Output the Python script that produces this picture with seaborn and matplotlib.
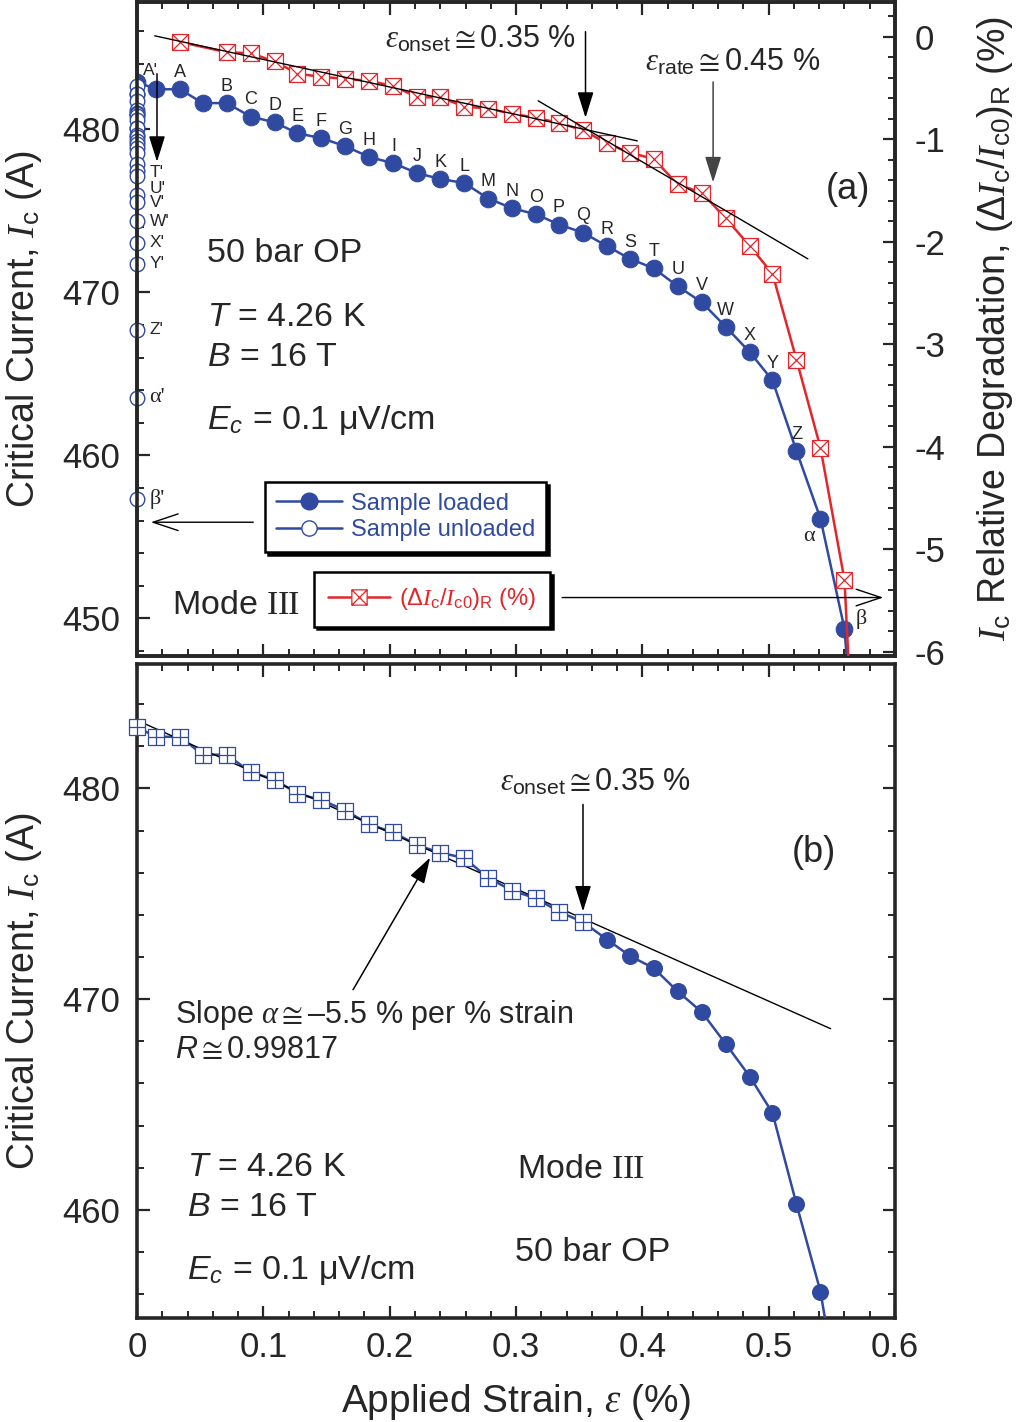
import numpy as np
import matplotlib
matplotlib.use("Agg")
import matplotlib.pyplot as plt
import seaborn as sns
from matplotlib.path import Path
from matplotlib.lines import Line2D
from matplotlib.ticker import MultipleLocator

# ---- data ----
# loaded measurements (strain %, Ic in A); last point lies below the plot range
strain = [0.000, 0.015, 0.034, 0.052, 0.071, 0.090, 0.109, 0.127, 0.146, 0.165,
          0.184, 0.203, 0.222, 0.240, 0.259, 0.278, 0.297, 0.316, 0.334, 0.353,
          0.372, 0.390, 0.409, 0.428, 0.447, 0.466, 0.485, 0.503, 0.522, 0.541,
          0.560, 0.579]
ic_loaded = [482.90, 482.45, 482.45, 481.60, 481.60, 480.77, 480.42, 479.75, 479.45, 478.95,
             478.29, 477.91, 477.30, 476.95, 476.70, 475.75, 475.15, 474.78, 474.15, 473.66,
             472.83, 472.06, 471.47, 470.37, 469.39, 467.88, 466.33, 464.60, 460.27, 456.12,
             449.36, 430.00]
point_labels = ["", "", "A", "", "B", "C", "D", "E", "F", "G", "H", "I", "J", "K", "L",
                "M", "N", "O", "P", "Q", "R", "S", "T", "U", "V", "W", "X", "Y", "Z",
                "α", "β", ""]

# unloaded measurements (all taken back at zero strain)
ic_unloaded = [482.66, 482.18, 482.13, 481.74, 481.16, 481.02, 480.92, 480.82, 480.58, 480.05,
               480.05, 479.62, 479.52, 479.28, 479.09, 478.84, 478.51, 477.88, 477.44, 477.15,
               475.95, 475.56, 474.35, 473.05, 471.75, 467.69, 463.54, 457.31]
strain_unloaded = [0.0] * len(ic_unloaded)
unloaded_labels = ["A'", "", "", "", "", "", "", "", "", "", "", "", "", "", "", "", "", "", "",
                   "T'", "U'", "V'", "W'", "X'", "Y'", "Z'", "α'", "β'"]

# relative degradation (%) of the unloaded Ic, right axis
strain_red = [0.034, 0.071, 0.090, 0.109, 0.127, 0.146, 0.165, 0.184, 0.203, 0.222,
              0.240, 0.259, 0.278, 0.297, 0.316, 0.334, 0.353, 0.372, 0.390, 0.409,
              0.428, 0.447, 0.466, 0.485, 0.503, 0.522, 0.541, 0.560, 0.579]
degradation = [-0.05, -0.15, -0.16, -0.24, -0.36, -0.39, -0.41, -0.43, -0.48, -0.59,
               -0.59, -0.68, -0.70, -0.75, -0.79, -0.84, -0.91, -1.04, -1.13, -1.19,
               -1.44, -1.52, -1.77, -2.04, -2.31, -3.15, -4.01, -5.30, -10.0]

# straight-line fits
fit_low_x, fit_low_y = [0.014, 0.396], [0.01, -1.015]
fit_high_x, fit_high_y = [0.3175, 0.531], [-0.624, -2.166]
fit_b_x, fit_b_y = [0.0, 0.549], [483.23, 468.60]
n_linear = 20  # points up to the onset strain shown as squares in (b)

# ---- style ----
sns.set_style("ticks")
plt.rcParams["font.family"] = ["Liberation Sans", "DejaVu Sans"]
plt.rcParams["font.size"] = 24
plt.rcParams["axes.unicode_minus"] = False
plt.rcParams["mathtext.fontset"] = "custom"
plt.rcParams["mathtext.rm"] = "Liberation Sans"
plt.rcParams["mathtext.it"] = "Liberation Serif:italic"
plt.rcParams["mathtext.sf"] = "Liberation Sans:italic"
plt.rcParams["mathtext.cal"] = "Liberation Serif"
plt.rcParams["mathtext.bf"] = "Liberation Sans:bold"
plt.rcParams["mathtext.fallback"] = "stixsans"

BLUE = "#2f4aa0"
RED = "#e3262b"

M, L, C = Path.MOVETO, Path.LINETO, Path.CLOSEPOLY
box_x = Path([(-1, -1), (1, -1), (1, 1), (-1, 1), (-1, -1),
              (-1, -1), (1, 1), (-1, 1), (1, -1)],
             [M, L, L, L, C, M, L, M, L])
box_plus = Path([(-1, -1), (1, -1), (1, 1), (-1, 1), (-1, -1),
                 (-1, 0), (1, 0), (0, -1), (0, 1)],
                [M, L, L, L, C, M, L, M, L])

fig = plt.figure(figsize=(10.25, 14.22), dpi=100)
ax = fig.add_axes([0.1337, 0.5387, 0.7395, 0.4599])
axb = fig.add_axes([0.1337, 0.0731, 0.7395, 0.4599])
ax2 = ax.twinx()

arrow_fill = dict(arrowstyle="-|>,head_length=0.8,head_width=0.25", color="k",
                  lw=1.1, mutation_scale=20, shrinkA=0, shrinkB=0)
arrow_open = dict(arrowstyle="->,head_length=0.9,head_width=0.3", color="k",
                  lw=1.0, mutation_scale=20, shrinkA=0, shrinkB=0)

# ---- panel (a) ----
sns.lineplot(x=strain, y=ic_loaded, ax=ax, color=BLUE, lw=1.8, marker="o",
             markersize=12, markeredgecolor=BLUE, markerfacecolor=BLUE,
             sort=False, estimator=None, zorder=3)
sns.scatterplot(x=strain_unloaded, y=ic_unloaded, ax=ax, marker="o", s=110,
                facecolor="white", edgecolor=BLUE, linewidth=1.0, clip_on=False, zorder=6)
sns.scatterplot(x=strain_unloaded, y=ic_unloaded, ax=ax, marker="o", s=2,
                color=BLUE, linewidth=0, clip_on=False, zorder=7)

for x, y, lab in zip(strain, ic_loaded, point_labels):
    if not lab:
        continue
    if lab == "α":
        off, fam, fs = (-8, -13), "Liberation Serif", 16
    elif lab == "β":
        off, fam, fs = (12, 7), "Liberation Serif", 16
    else:
        off, fam, fs = (0, 12), "Liberation Sans", 13
    ax.annotate(lab, (x, y), xytext=off, textcoords="offset points",
                ha="center", va="center", fontsize=fs, family=fam)

unloaded_offsets = {"A'": (4, 11), "T'": (9, 2), "U'": (9, 5), "V'": (9, -1)}
for x, y, lab in zip(strain_unloaded, ic_unloaded, unloaded_labels):
    if not lab:
        continue
    off = unloaded_offsets.get(lab, (9, 0))
    fam = "Liberation Serif" if lab[0] in "αβ" else "Liberation Sans"
    fs = 16 if lab[0] in "αβ" else 12.5
    ax.annotate(lab, (x, y), xytext=off, textcoords="offset points",
                ha="left", va="center", fontsize=fs, family=fam, zorder=8)

sns.lineplot(x=strain_red, y=degradation, ax=ax2, color=RED, lw=1.8, marker=box_x,
             markersize=11.5, markeredgecolor=RED, markerfacecolor="white",
             markeredgewidth=0.9, sort=False, estimator=None, zorder=3)
sns.lineplot(x=fit_low_x, y=fit_low_y, ax=ax2, color="k", lw=1.0, zorder=4)
sns.lineplot(x=fit_high_x, y=fit_high_y, ax=ax2, color="k", lw=1.0, zorder=4)

ax.set_xlim(0, 0.6)
ax.set_ylim(447.7, 487.8)
ax2.set_ylim(-6.04, 0.34)

ax2.text(0.196, -0.10, r"$ε_{\mathrm{onset}} \cong$0.35 %", fontsize=22, va="baseline")
ax2.annotate("", xy=(0.355, -0.79), xytext=(0.355, 0.05), arrowprops=arrow_fill)
ax2.text(0.402, -0.33, r"$ε_{\mathrm{rate}} \cong$0.45 %", fontsize=22, va="baseline")
ax2.annotate("", xy=(0.456, -1.42), xytext=(0.456, -0.44),
             arrowprops={**arrow_fill, "color": "#444444"})
ax2.annotate("", xy=(0.5907, -5.47), xytext=(0.3365, -5.47), arrowprops=arrow_open)
ax.annotate("", xy=(0.0158, 478.0), xytext=(0.0158, 483.4), arrowprops=arrow_fill, zorder=9)
ax.annotate("", xy=(0.011, 455.9), xytext=(0.092, 455.9), arrowprops=arrow_open)

ax.text(0.563, 476.3, "(a)", fontsize=26, ha="center", va="center")
ax.text(0.0554, 472.4, "50 bar OP", fontsize=24.5, va="center")
ax.text(0.0554, 468.44, r"$\mathsf{T}$ = 4.26 K", fontsize=24.5, va="center")
ax.text(0.0554, 466.0, r"$\mathsf{B}$ = 16 T", fontsize=24.5, va="center")
ax.text(0.0554, 461.6, r"$\mathsf{E}_{\mathsf{c}}$ = 0.1 μV/cm", fontsize=24.5, va="baseline")
ax.text(0.0277, 450.8, r"Mode $\mathcal{III}$", fontsize=24.5, va="center")

handles1 = [Line2D([], [], color=BLUE, lw=1.8, marker="o", ms=12, mfc=BLUE, mec=BLUE),
            Line2D([], [], color=BLUE, lw=1.8, marker="o", ms=11, mfc="white", mec=BLUE, mew=1)]
leg1 = ax2.legend(handles1, ["Sample loaded", "Sample unloaded"], loc="upper left",
                  bbox_to_anchor=(0.169, 0.266), borderaxespad=0, fontsize=17,
                  frameon=True, fancybox=False, edgecolor="k", framealpha=1,
                  shadow={"color": "k", "alpha": 1}, handlelength=2.8,
                  handletextpad=0.4, labelspacing=0.2, borderpad=0.45)
leg1.get_frame().set_linewidth(1.8)
for t in leg1.get_texts():
    t.set_color(BLUE)
ax2.add_artist(leg1)

handles2 = [Line2D([], [], color=RED, lw=1.8, marker=box_x, ms=11, mfc="white",
                   mec=RED, mew=0.9)]
leg2 = ax2.legend(handles2, [r"$(\Delta I_{\mathrm{c}}/I_{\mathrm{c0}})_{\mathrm{R}}$ (%)"],
                  loc="upper left", bbox_to_anchor=(0.2335, 0.128), borderaxespad=0,
                  fontsize=17, frameon=True, fancybox=False, edgecolor="k",
                  framealpha=1, shadow={"color": "k", "alpha": 1}, handlelength=2.6,
                  handletextpad=0.4, borderpad=0.6)
leg2.get_frame().set_linewidth(1.8)
for t in leg2.get_texts():
    t.set_color(RED)

# ---- panel (b) ----
sns.lineplot(x=strain, y=ic_loaded, ax=axb, color=BLUE, lw=1.8, sort=False,
             estimator=None, zorder=3)
sns.lineplot(x=fit_b_x, y=fit_b_y, ax=axb, color="k", lw=1.0, zorder=4)
sns.scatterplot(x=strain[:n_linear], y=ic_loaded[:n_linear], ax=axb, marker=box_plus,
                s=120, facecolor="white", edgecolor=BLUE, linewidth=0.9,
                clip_on=False, zorder=5)
sns.scatterplot(x=strain[n_linear:], y=ic_loaded[n_linear:], ax=axb, marker="o",
                s=150, color=BLUE, edgecolor=BLUE, linewidth=0, zorder=5)

axb.set_xlim(0, 0.6)
axb.set_ylim(454.87, 485.9)

axb.text(0.287, 479.9, r"$ε_{\mathrm{onset}} \cong$0.35 %", fontsize=22, va="baseline")
axb.annotate("", xy=(0.353, 474.16), xytext=(0.353, 479.24), arrowprops=arrow_fill)
axb.text(0.536, 476.96, "(b)", fontsize=26, ha="center", va="center")
axb.text(0.030, 469.26, r"Slope $α \cong$–5.5 % per % strain", fontsize=22, va="center")
axb.text(0.030, 467.6, r"$\mathsf{R} \cong$0.99817", fontsize=22, va="center")
axb.annotate("", xy=(0.232, 476.72), xytext=(0.171, 470.45), arrowprops=arrow_fill)
axb.text(0.0396, 462.0, r"$\mathsf{T}$ = 4.26 K", fontsize=24.5, va="center")
axb.text(0.0396, 460.1, r"$\mathsf{B}$ = 16 T", fontsize=24.5, va="center")
axb.text(0.0396, 456.7, r"$\mathsf{E}_{\mathsf{c}}$ = 0.1 μV/cm", fontsize=24.5, va="baseline")
axb.text(0.301, 461.9, r"Mode $\mathcal{III}$", fontsize=24.5, va="center")
axb.text(0.299, 458.0, "50 bar OP", fontsize=24.5, va="center")

# ---- axes styling ----
for a in (ax, axb):
    a.xaxis.set_major_locator(MultipleLocator(0.1))
    a.xaxis.set_minor_locator(MultipleLocator(0.02))
    a.yaxis.set_major_locator(MultipleLocator(10))
    a.yaxis.set_minor_locator(MultipleLocator(2))
ax2.yaxis.set_major_locator(MultipleLocator(1))
ax2.yaxis.set_minor_locator(MultipleLocator(0.2))

for a in (ax, ax2, axb):
    for s in a.spines.values():
        s.set_linewidth(2.6)
    a.tick_params(which="major", direction="in", length=9, width=1.6, labelsize=25, pad=12)
    a.tick_params(which="minor", direction="in", length=5, width=1.4)

ax.tick_params(which="both", top=True, bottom=True, left=True, right=False,
               labelbottom=False)
ax2.tick_params(which="both", right=True, left=False, top=False, bottom=False, pad=14)
axb.tick_params(which="both", top=True, bottom=True, left=True, right=True)
axb.set_xticks([0, 0.1, 0.2, 0.3, 0.4, 0.5, 0.6], ["0", "0.1", "0.2", "0.3", "0.4", "0.5", "0.6"])
axb.tick_params(axis="x", pad=9)

ax.set_ylabel(r"Critical Current, $I_{\mathrm{c}}$ (A)", fontsize=27)
ax.yaxis.set_label_coords(-0.123, 0.5)
axb.set_ylabel(r"Critical Current, $I_{\mathrm{c}}$ (A)", fontsize=27)
axb.yaxis.set_label_coords(-0.123, 0.5)
ax2.set_ylabel(r"$I_{\mathrm{c}}$ Relative Degradation, "
               r"$(\Delta I_{\mathrm{c}}/I_{\mathrm{c0}})_{\mathrm{R}}$ (%)",
               fontsize=27, rotation=90, va="top")
ax2.yaxis.set_label_coords(1.105, 0.5)
axb.set_xlabel(r"Applied Strain, $ε$ (%)", fontsize=28)
axb.xaxis.set_label_coords(0.5, -0.098)

fig.savefig("out.png", dpi=100)
